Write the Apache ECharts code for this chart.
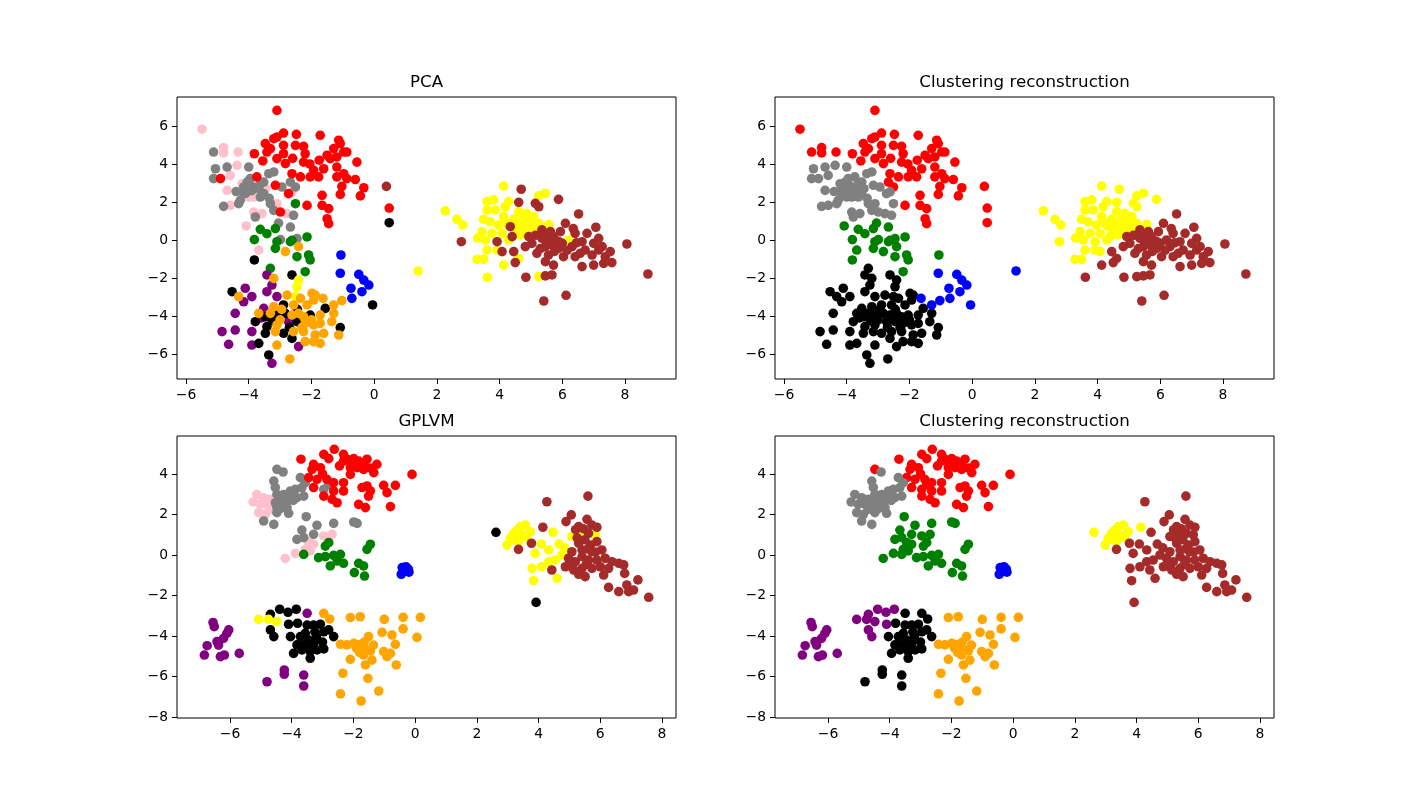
<!DOCTYPE html>
<html><head><meta charset="utf-8">
<script src="https://cdn.jsdelivr.net/npm/echarts@6/dist/echarts.min.js"></script>
<style>html,body{margin:0;padding:0;background:#fff}#c{width:1416px;height:807px}</style>
</head><body><div id="c"></div>
<script>
// class codes: r red, p pink, g gray, n green, k black, u purple, o orange, b blue, y yellow, w brown
const classCodes = ['r','p','g','n','k','u','o','b','y','w'];
const xTicks = [-6,-4,-2,0,2,4,6,8];
const pcaYTicks = [-6,-4,-2,0,2,4,6];
const gpYTicks = [-8,-6,-4,-2,0,2,4];
const panelTitles = ['PCA','Clustering reconstruction','GPLVM','Clustering reconstruction'];

// PCA embedding, grouped by reconstructed cluster: [x, y, true class]
const pcaRed = [[-3.10,6.82,'r'],[-5.49,5.83,'p'],[-5.12,4.63,'g'],[-4.80,4.86,'p'],[-4.80,4.58,'p'],[-4.34,4.63,'p'],[-3.82,4.54,'r'],[-3.55,4.16,'r'],[-3.47,5.07,'r'],[-3.20,5.33,'r'],[-3.10,5.42,'r'],[-2.89,5.63,'r'],[-3.31,4.81,'r'],[-3.42,4.63,'r'],[-3.10,4.28,'r'],[-2.89,4.98,'r'],[-2.89,4.54,'r'],[-2.83,4.02,'r'],[-2.48,5.56,'r'],[-2.51,4.98,'r'],[-2.25,4.93,'r'],[-2.20,4.54,'r'],[-2.25,4.10,'r'],[-1.72,5.51,'r'],[-1.13,5.25,'r'],[-1.08,5.07,'r'],[-1.29,4.81,'r'],[-0.97,4.63,'r'],[-0.87,4.63,'r'],[-1.50,4.46,'r'],[-1.40,4.28,'r'],[-1.19,4.37,'r'],[-0.55,4.10,'r'],[-1.19,3.84,'r'],[-1.61,3.75,'r'],[-1.93,3.67,'r'],[-2.04,3.32,'r'],[-2.35,3.32,'r'],[-2.62,3.49,'r'],[-2.67,3.05,'g'],[-2.51,2.79,'g'],[-1.77,3.32,'r'],[-1.19,3.32,'r'],[-0.97,3.49,'r'],[-0.87,3.23,'r'],[-0.60,3.18,'r'],[-1.03,2.82,'r'],[-0.33,2.75,'r'],[-1.08,2.40,'r'],[-0.44,2.32,'r'],[-1.66,2.35,'r'],[-2.14,1.82,'r'],[-1.66,1.82,'r'],[-1.45,1.65,'r'],[-1.50,1.12,'r'],[-1.45,0.86,'r'],[0.39,2.82,'w'],[0.48,1.68,'r'],[0.48,0.91,'k'],[-2.60,4.30,'r'],[-2.05,4.00,'r'],[-1.75,4.20,'r']];
const pcaGray = [[-5.06,3.75,'g'],[-5.12,3.23,'g'],[-4.90,3.23,'r'],[-4.69,3.84,'g'],[-4.59,3.40,'p'],[-4.37,3.93,'p'],[-4.69,2.61,'p'],[-4.21,2.96,'p'],[-4.16,2.79,'g'],[-4.00,3.84,'g'],[-3.95,3.23,'g'],[-3.84,2.79,'g'],[-3.74,2.44,'p'],[-3.63,2.96,'g'],[-3.74,3.32,'r'],[-3.52,3.05,'g'],[-3.36,3.49,'g'],[-3.20,3.58,'g'],[-3.15,2.88,'r'],[-2.94,2.79,'g'],[-3.63,2.26,'g'],[-4.00,2.26,'p'],[-4.27,2.09,'g'],[-4.80,1.77,'g'],[-4.59,1.82,'p'],[-4.32,1.91,'g'],[-3.84,1.47,'p'],[-3.79,1.21,'g'],[-3.58,1.39,'p'],[-3.31,1.91,'g'],[-3.20,1.56,'g'],[-3.10,1.91,'p'],[-2.99,1.47,'r'],[-2.78,1.39,'p'],[-2.57,1.30,'g'],[-2.51,1.91,'n'],[-2.62,2.53,'p'],[-2.73,2.44,'r'],[-4.16,2.44,'g'],[-3.84,2.26,'p'],[-3.52,2.44,'g'],[-3.90,2.60,'g'],[-3.68,2.70,'g'],[-4.05,3.05,'g'],[-3.45,2.70,'p'],[-4.10,2.45,'g'],[-3.95,2.95,'p'],[-3.35,2.20,'g'],[-4.40,2.55,'g']];
const pcaGreen = [[-4.08,0.74,'p'],[-3.63,0.56,'n'],[-3.42,0.33,'n'],[-3.15,0.60,'n'],[-3.05,0.89,'g'],[-2.67,0.68,'g'],[-2.14,0.16,'n'],[-3.82,0.02,'n'],[-2.99,0.02,'g'],[-2.62,-0.02,'n'],[-2.46,0.07,'g'],[-3.15,-0.44,'n'],[-2.83,-0.61,'o'],[-2.67,-0.09,'n'],[-2.41,-0.35,'o'],[-2.46,-0.88,'n'],[-2.09,-0.79,'n'],[-2.04,-1.05,'n'],[-3.68,-0.53,'p'],[-3.82,-1.05,'k'],[-2.20,-1.67,'n'],[-1.06,-0.79,'b'],[-3.10,-0.09,'n']];
const pcaBlack = [[-3.31,-1.49,'n'],[-3.42,-1.84,'u'],[-3.20,-2.02,'o'],[-2.62,-1.84,'k'],[-2.41,-2.11,'y'],[-3.26,-2.37,'u'],[-4.11,-2.54,'u'],[-4.53,-2.72,'k'],[-4.32,-2.98,'o'],[-4.16,-3.25,'u'],[-3.90,-2.98,'u'],[-3.42,-2.72,'u'],[-3.10,-2.98,'u'],[-2.78,-2.90,'o'],[-2.46,-2.46,'y'],[-2.51,-2.98,'y'],[-2.35,-3.07,'o'],[-1.98,-2.81,'o'],[-1.88,-2.90,'o'],[-1.93,-3.16,'o'],[-2.14,-3.42,'o'],[-2.57,-3.42,'o'],[-2.89,-3.42,'k'],[-3.20,-3.51,'o'],[-3.52,-3.60,'u'],[-3.68,-3.86,'o'],[-3.47,-4.04,'k'],[-3.31,-3.86,'o'],[-3.10,-3.95,'k'],[-2.83,-3.86,'k'],[-2.62,-3.95,'o'],[-2.41,-3.86,'o'],[-2.25,-4.04,'o'],[-2.04,-3.95,'k'],[-1.72,-3.95,'o'],[-1.56,-3.60,'k'],[-1.29,-3.86,'o'],[-1.35,-4.30,'o'],[-1.72,-4.39,'o'],[-1.93,-4.47,'o'],[-2.20,-4.39,'o'],[-2.46,-4.30,'k'],[-2.73,-4.30,'u'],[-3.10,-4.47,'o'],[-3.42,-4.56,'k'],[-3.79,-4.30,'k'],[-4.43,-3.86,'u'],[-4.85,-4.82,'u'],[-4.43,-4.74,'u'],[-3.90,-4.82,'u'],[-3.47,-4.91,'k'],[-3.15,-4.82,'o'],[-2.89,-4.91,'k'],[-2.57,-4.82,'o'],[-2.25,-4.82,'o'],[-1.88,-5.00,'o'],[-1.61,-4.91,'o'],[-1.08,-4.61,'k'],[-1.13,-5.00,'o'],[-4.64,-5.49,'u'],[-3.90,-5.53,'u'],[-3.68,-5.44,'k'],[-3.10,-5.53,'o'],[-2.62,-5.18,'k'],[-2.41,-5.61,'u'],[-2.20,-5.35,'o'],[-1.93,-5.35,'o'],[-1.72,-5.44,'o'],[-3.36,-6.05,'k'],[-3.26,-6.49,'u'],[-2.69,-6.26,'o'],[-3.00,-4.20,'o'],[-2.70,-4.60,'k'],[-2.30,-4.60,'o'],[-2.95,-3.65,'o'],[-2.45,-3.65,'k'],[-3.60,-4.10,'u'],[-2.00,-4.20,'o'],[-3.25,-4.25,'k']];
const pcaBlue = [[-1.08,-1.75,'b'],[-0.49,-1.81,'b'],[-0.33,-2.11,'b'],[-0.17,-2.37,'b'],[-0.39,-2.72,'b'],[-0.74,-2.54,'b'],[-0.71,-3.07,'b'],[-1.03,-3.19,'o'],[-1.29,-3.42,'o'],[-1.63,-3.07,'o'],[-0.05,-3.42,'k'],[1.40,-1.63,'y']];
const pcaYellow = [[4.13,2.84,'y'],[4.69,2.67,'w'],[5.46,2.46,'y'],[5.25,2.32,'y'],[5.88,2.14,'w'],[2.27,1.53,'y'],[2.64,1.09,'y'],[2.83,0.79,'y'],[2.78,-0.09,'w'],[3.28,-1.02,'y'],[3.49,-1.02,'y'],[3.60,2.02,'y'],[3.81,2.11,'y'],[4.29,2.02,'y'],[4.61,1.98,'w'],[4.18,1.75,'y'],[5.14,1.93,'w'],[5.25,1.75,'w'],[3.60,1.58,'y'],[3.86,1.58,'y'],[4.13,1.23,'y'],[4.61,1.49,'y'],[4.87,1.40,'y'],[5.09,1.23,'y'],[3.49,1.09,'y'],[3.70,0.96,'y'],[3.97,0.79,'y'],[4.34,0.70,'w'],[4.55,0.88,'y'],[4.71,0.61,'y'],[4.98,0.79,'y'],[5.25,0.88,'y'],[5.57,0.82,'y'],[3.44,0.44,'y'],[3.76,0.35,'y'],[4.08,0.35,'y'],[4.40,0.18,'w'],[4.66,0.26,'y'],[4.93,0.35,'y'],[5.19,0.44,'y'],[3.55,0.00,'y'],[3.92,-0.09,'w'],[4.29,0.00,'y'],[3.60,-0.53,'y'],[3.92,-0.53,'y'],[4.08,-0.61,'w'],[4.80,1.05,'y'],[4.45,1.10,'y'],[5.00,1.05,'y'],[4.75,1.25,'y'],[4.50,0.50,'y'],[4.85,0.55,'y'],[5.05,0.60,'y'],[4.20,0.90,'y'],[3.30,0.10,'y']];
const pcaBrown = [[6.52,1.37,'w'],[7.07,0.67,'w'],[6.10,0.88,'w'],[5.94,0.44,'w'],[5.62,0.44,'w'],[6.41,0.35,'w'],[6.79,0.35,'w'],[7.16,0.09,'w'],[5.35,0.09,'w'],[5.78,0.00,'w'],[6.20,0.00,'y'],[6.63,-0.09,'w'],[7.00,-0.18,'w'],[7.27,-0.35,'w'],[7.53,-0.61,'w'],[8.06,-0.21,'w'],[5.03,-0.18,'w'],[4.82,-0.35,'w'],[5.46,-0.35,'w'],[5.88,-0.44,'w'],[6.31,-0.35,'w'],[6.73,-0.53,'w'],[7.16,-0.53,'w'],[4.45,-0.61,'w'],[4.61,-0.97,'y'],[5.19,-0.70,'w'],[5.56,-0.79,'w'],[6.04,-0.88,'w'],[6.57,-0.70,'w'],[6.95,-0.79,'w'],[7.37,-0.88,'w'],[7.58,-1.19,'w'],[7.32,-1.23,'w'],[4.50,-1.19,'w'],[4.13,-1.32,'y'],[5.46,-1.14,'w'],[5.72,-1.32,'w'],[6.63,-1.40,'w'],[7.00,-1.32,'w'],[5.67,-1.84,'w'],[5.25,-1.93,'y'],[5.46,-1.89,'w'],[4.84,-1.96,'w'],[3.61,-1.96,'y'],[8.73,-1.79,'w'],[6.12,-2.91,'w'],[5.41,-3.21,'w'],[4.93,0.18,'w'],[5.35,0.53,'w'],[5.67,-0.26,'w'],[6.00,-0.18,'w'],[6.41,-0.88,'w'],[5.50,-0.10,'w'],[5.70,0.20,'w'],[5.90,-0.10,'w'],[5.30,-0.45,'w'],[5.75,-0.60,'w'],[6.15,-0.55,'w'],[6.45,-0.15,'w'],[5.15,0.25,'w'],[5.45,0.30,'w'],[6.35,0.60,'w']];

// GPLVM embedding, grouped by reconstructed cluster: [x, y, true class]
const gpRed = [[-3.70,4.73,'r'],[-2.96,4.97,'r'],[-2.62,5.22,'r'],[-2.80,4.76,'r'],[-3.29,4.48,'r'],[-3.34,4.23,'r'],[-3.07,4.31,'r'],[-2.32,4.97,'r'],[-2.21,4.73,'r'],[-2.32,4.64,'r'],[-1.99,4.76,'r'],[-1.83,4.64,'r'],[-1.56,4.73,'r'],[-1.67,4.48,'r'],[-1.24,4.48,'r'],[-2.10,4.31,'r'],[-1.88,4.31,'r'],[-1.67,4.23,'r'],[-1.34,4.07,'r'],[-2.10,3.98,'r'],[-0.10,3.98,'r'],[-4.48,4.23,'g'],[-3.45,3.82,'r'],[-3.18,3.74,'r'],[-2.86,3.74,'r'],[-2.64,3.57,'r'],[-2.32,3.57,'r'],[-3.29,3.33,'r'],[-2.96,3.24,'g'],[-2.64,3.16,'r'],[-2.32,3.16,'r'],[-1.72,3.33,'r'],[-1.56,3.41,'r'],[-1.45,3.16,'r'],[-1.02,3.44,'r'],[-0.64,3.44,'r'],[-0.91,3.08,'r'],[-2.53,2.58,'r'],[-1.83,2.50,'r'],[-1.61,2.34,'r'],[-0.80,2.39,'r'],[-2.96,2.91,'r'],[-2.69,2.75,'r'],[-1.51,2.91,'r'],[-2.80,3.49,'g'],[-2.05,4.55,'r'],[-1.85,4.45,'r'],[-2.45,4.40,'r'],[-1.45,4.30,'r'],[-3.00,4.00,'r']];
const gpGray = [[-4.28,4.10,'g'],[-4.58,3.65,'g'],[-4.53,3.33,'g'],[-3.72,3.82,'g'],[-3.56,3.57,'g'],[-3.67,3.33,'g'],[-3.88,3.24,'g'],[-4.04,3.16,'g'],[-4.26,2.99,'g'],[-4.48,2.99,'g'],[-4.15,2.75,'g'],[-4.37,2.75,'g'],[-4.53,2.58,'g'],[-4.69,2.75,'p'],[-4.91,2.83,'p'],[-5.13,2.99,'p'],[-5.25,2.62,'p'],[-5.02,2.50,'p'],[-4.80,2.50,'p'],[-4.48,2.34,'g'],[-4.15,2.34,'g'],[-4.69,2.26,'p'],[-5.07,2.09,'p'],[-4.85,2.01,'p'],[-4.48,2.09,'g'],[-4.10,2.06,'g'],[-3.83,2.83,'g'],[-3.61,2.91,'g'],[-4.91,1.68,'g'],[-4.58,1.51,'g'],[-4.31,2.91,'g'],[-3.99,2.99,'g'],[-4.20,2.55,'g'],[-3.95,2.70,'g'],[-4.35,2.30,'g']];
const gpGreen = [[-3.53,1.89,'g'],[-3.18,1.47,'g'],[-2.64,1.56,'g'],[-1.99,1.63,'g'],[-1.88,1.56,'g'],[-3.67,1.23,'g'],[-3.29,1.02,'g'],[-3.61,0.86,'g'],[-3.83,0.77,'g'],[-3.45,0.61,'p'],[-3.29,0.53,'p'],[-2.96,0.94,'p'],[-2.69,1.02,'p'],[-2.80,0.61,'n'],[-2.91,0.44,'n'],[-3.56,0.28,'p'],[-3.40,0.20,'p'],[-3.88,0.08,'p'],[-4.21,-0.17,'p'],[-3.61,0.03,'n'],[-3.13,-0.13,'n'],[-2.91,-0.08,'n'],[-2.64,-0.02,'n'],[-2.42,0.03,'n'],[-2.53,-0.30,'n'],[-2.32,-0.41,'n'],[-2.75,-0.54,'n'],[-1.83,-0.41,'n'],[-1.67,-0.54,'n'],[-1.97,-0.87,'n'],[-1.64,-1.04,'n'],[-1.45,0.53,'n'],[-1.56,0.28,'n']];
const gpBlue = [[-0.42,-0.62,'b'],[-0.30,-0.58,'b'],[-0.22,-0.70,'b'],[-0.35,-0.80,'b'],[-0.45,-0.95,'b'],[-0.20,-0.85,'b'],[-0.30,-0.70,'b']];
const gpPurple = [[-6.55,-3.33,'u'],[-6.51,-3.54,'u'],[-6.04,-3.70,'u'],[-6.10,-3.87,'u'],[-6.21,-4.12,'u'],[-6.42,-4.28,'u'],[-6.37,-4.45,'u'],[-6.74,-4.48,'u'],[-6.83,-4.94,'u'],[-6.31,-5.02,'u'],[-6.18,-4.94,'u'],[-5.70,-4.86,'u'],[-5.07,-3.18,'y'],[-4.69,-2.93,'k'],[-4.75,-3.18,'y'],[-4.48,-3.29,'y'],[-4.39,-2.68,'k'],[-4.12,-2.83,'k'],[-3.85,-2.68,'k'],[-4.10,-3.42,'k'],[-4.69,-3.70,'k'],[-4.58,-4.03,'k']];
const gpBlack = [[-3.50,-2.88,'u'],[-2.96,-2.88,'o'],[-2.77,-3.16,'o'],[-3.81,-3.37,'k'],[-3.50,-3.46,'k'],[-3.29,-3.46,'k'],[-3.07,-3.42,'k'],[-2.96,-3.79,'k'],[-2.80,-3.70,'k'],[-2.64,-4.03,'k'],[-4.04,-4.03,'k'],[-3.72,-4.03,'k'],[-3.56,-3.87,'k'],[-3.45,-4.20,'k'],[-3.83,-4.44,'k'],[-3.61,-4.44,'k'],[-3.29,-4.36,'k'],[-2.96,-4.64,'k'],[-3.94,-4.86,'k'],[-3.67,-4.69,'k'],[-3.40,-4.77,'k'],[-3.18,-4.69,'k'],[-3.40,-5.10,'k'],[-4.80,-6.26,'u'],[-4.24,-5.68,'u'],[-4.24,-5.89,'u'],[-3.61,-5.93,'u'],[-3.61,-6.47,'u'],[-3.20,-4.05,'k'],[-3.00,-4.30,'k'],[-3.50,-4.55,'k'],[-3.25,-3.80,'k']];
const gpOrange = [[-2.10,-3.09,'o'],[-1.78,-3.05,'o'],[-1.00,-3.18,'o'],[-0.39,-3.08,'o'],[0.17,-3.08,'o'],[-1.07,-3.82,'o'],[-0.75,-3.95,'o'],[-0.39,-3.65,'o'],[0.06,-4.07,'o'],[-0.64,-4.41,'o'],[-2.42,-4.41,'o'],[-2.21,-4.44,'o'],[-1.99,-4.36,'o'],[-1.83,-4.44,'o'],[-1.72,-4.53,'o'],[-1.51,-4.03,'o'],[-1.56,-4.69,'o'],[-1.67,-4.94,'o'],[-1.45,-4.74,'o'],[-1.02,-4.77,'o'],[-0.80,-4.86,'o'],[-0.91,-5.02,'o'],[-2.10,-5.15,'o'],[-1.61,-5.43,'o'],[-0.61,-5.43,'o'],[-2.34,-5.84,'o'],[-1.53,-6.09,'o'],[-1.18,-6.72,'o'],[-2.42,-6.86,'o'],[-1.75,-7.21,'o'],[-1.40,-5.19,'o'],[-1.80,-4.81,'o'],[-1.65,-4.30,'o'],[-1.90,-4.60,'o'],[-1.35,-4.45,'o']];
const gpYellow = [[2.62,1.12,'k'],[2.98,0.49,'y'],[3.08,0.82,'y'],[3.19,1.07,'y'],[3.30,1.23,'y'],[3.41,1.40,'y'],[3.57,1.48,'y'],[3.73,1.15,'y'],[3.46,0.99,'y'],[3.25,0.74,'y'],[3.35,0.66,'y'],[4.14,1.37,'w'],[3.62,0.90,'y']];
const gpBrown = [[4.27,2.63,'w'],[5.60,2.91,'w'],[5.06,1.98,'w'],[4.89,1.65,'w'],[5.57,1.76,'w'],[5.73,1.48,'w'],[5.89,1.37,'w'],[5.30,1.40,'w'],[5.41,1.07,'y'],[5.62,1.07,'w'],[5.84,0.99,'y'],[5.08,0.91,'y'],[4.47,1.12,'y'],[4.67,0.54,'y'],[3.77,0.58,'w'],[4.09,0.54,'y'],[4.33,0.25,'y'],[3.89,0.08,'y'],[3.35,0.28,'w'],[5.30,0.58,'w'],[5.68,0.49,'w'],[6.05,0.25,'w'],[5.89,0.66,'w'],[4.76,0.00,'y'],[4.54,-0.25,'y'],[4.33,-0.33,'y'],[4.11,-0.58,'y'],[3.79,-0.66,'y'],[4.97,-0.16,'w'],[5.19,-0.33,'w'],[5.41,-0.08,'w'],[5.62,-0.25,'w'],[5.89,-0.25,'w'],[6.16,-0.16,'w'],[6.38,-0.33,'w'],[6.60,-0.41,'w'],[4.87,-0.58,'w'],[5.14,-0.74,'w'],[5.41,-0.66,'w'],[5.73,-0.66,'w'],[6.00,-0.58,'w'],[6.27,-0.66,'w'],[4.43,-0.74,'w'],[4.60,-1.15,'y'],[5.51,-1.07,'w'],[6.11,-0.99,'w'],[6.76,-0.49,'w'],[6.79,-0.91,'w'],[7.22,-1.23,'w'],[6.86,-1.48,'w'],[6.27,-1.60,'w'],[6.60,-1.81,'w'],[6.92,-1.81,'w'],[7.08,-1.73,'w'],[7.57,-2.09,'w'],[3.84,-1.27,'y'],[3.92,-2.34,'k'],[5.41,0.25,'w'],[5.73,0.16,'w'],[5.08,0.16,'w'],[5.25,0.85,'w'],[5.50,0.75,'w'],[5.20,1.25,'w'],[5.45,1.30,'w'],[5.60,0.30,'w'],[5.00,-0.45,'w'],[5.55,-0.45,'w'],[5.30,-0.95,'w'],[5.85,0.15,'w'],[4.85,0.35,'y']];

// ---- presentation ----
const colorOf = {r:'#ff0000',p:'#ffc0cb',g:'#808080',n:'#008000',k:'#000000',u:'#800080',o:'#ffa500',b:'#0000ff',y:'#ffff00',w:'#a52a2a'};
const pcaClusters = {r:pcaRed,g:pcaGray,n:pcaGreen,k:pcaBlack,b:pcaBlue,y:pcaYellow,w:pcaBrown};
const gpClusters = {r:gpRed,g:gpGray,n:gpGreen,b:gpBlue,u:gpPurple,k:gpBlack,o:gpOrange,y:gpYellow,w:gpBrown};
const trueOrder = ['p','g','r','n','u','k','y','o','b','w'];
const clusterOrder = ['r','g','n','u','k','o','b','y','w'];

const grids = [
  {left:177, top:97, width:499, height:282},
  {left:775, top:97, width:499, height:282},
  {left:177, top:436, width:499, height:282},
  {left:775, top:436, width:499, height:282}
];
const ranges = [
  {x:[-6.287,9.626], y:[-7.316,7.526], yt:pcaYTicks},
  {x:[-6.287,9.626], y:[-7.316,7.526], yt:pcaYTicks},
  {x:[-7.717,8.454], y:[-8.05,5.877], yt:gpYTicks},
  {x:[-7.717,8.454], y:[-8.05,5.877], yt:gpYTicks}
];
const fmt = v => String(v).replace('-', '\u2212');
function axisBase(i, min, max, ticks){
  return {type:'value', gridIndex:i, min, max, scale:true,
    splitLine:{show:false},
    axisLine:{show:false, onZero:false},
    axisTick:{show:true, customValues:ticks, length:5, lineStyle:{color:'#000', width:1}},
    axisLabel:{customValues:ticks, color:'#000', fontSize:13.9, fontFamily:'DejaVu Sans', margin:9, formatter:fmt, hideOverlap:false}
  };
}
const xAxes = ranges.map((r,i)=>Object.assign(axisBase(i, r.x[0], r.x[1], xTicks), {position:'bottom'}));
const yAxes = ranges.map((r,i)=>Object.assign(axisBase(i, r.y[0], r.y[1], r.yt), {position:'left'}));

const series = [];
function addSeries(idx, groups, order){
  order.forEach(code=>{
    const pts = groups[code] || [];
    if(!pts.length) return;
    series.push({type:'scatter', xAxisIndex:idx, yAxisIndex:idx, symbol:'circle', symbolSize:9.6,
      itemStyle:{color:colorOf[code], opacity:1}, silent:true, data:pts.map(p=>[p[0],p[1]])});
  });
}
function byTrue(clusters){
  const g = {};
  Object.keys(clusters).forEach(c=>clusters[c].forEach(p=>{(g[p[2]] = g[p[2]] || []).push(p);}));
  return g;
}
addSeries(0, byTrue(pcaClusters), trueOrder);
addSeries(1, pcaClusters, clusterOrder);
addSeries(2, byTrue(gpClusters), trueOrder);
addSeries(3, gpClusters, clusterOrder);

const titles = grids.map((g,i)=>({type:'text', x:g.left+g.width/2, y:g.top-14,
  style:{text:panelTitles[i], fill:'#000', font:'16.67px "DejaVu Sans"', textAlign:'center', textVerticalAlign:'middle', align:'center', verticalAlign:'middle'}}));

const chart = echarts.init(document.getElementById('c'), null, {renderer:'canvas'});
chart.setOption({
  animation:false,
  backgroundColor:'#fff',
  grid: grids.map(g=>Object.assign({show:true, borderColor:'#000', borderWidth:1, backgroundColor:'transparent', containLabel:false}, g)),
  xAxis: xAxes,
  yAxis: yAxes,
  graphic: titles,
  series
});
</script></body></html>
